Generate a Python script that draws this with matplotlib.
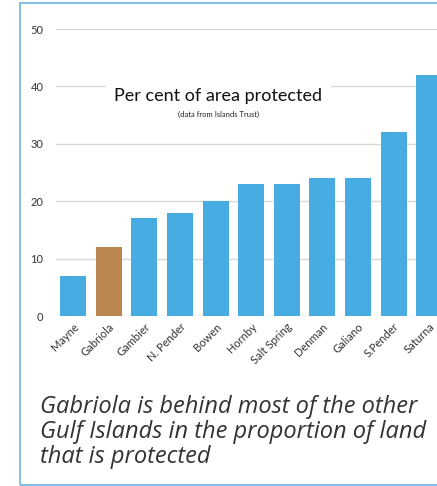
import matplotlib.pyplot as plt
import matplotlib
from matplotlib.patches import Rectangle

matplotlib.rcParams.update({'font.family': 'Lato', 'font.size': 8})

islands = ['Mayne', 'Gabriola', 'Gambier', 'N. Pender', 'Bowen', 'Hornby',
           'Salt Spring', 'Denman', 'Galiano', 'S.Pender', 'Saturna']
protected = [7, 12, 17, 18, 20, 23, 23, 24, 24, 32, 42]
yticks = [0, 10, 20, 30, 40, 50]

blue = '#47ace1'
brown = '#b9864f'
colors = [brown if name == 'Gabriola' else blue for name in islands]

fig = plt.figure(figsize=(4.37, 4.86), dpi=100)
ax = fig.add_axes([56 / 437, 1 - 316 / 486, 1 - 56 / 437, (316 - 29) / 486])

x = range(len(islands))
ax.bar(x, protected, width=0.73, color=colors, zorder=2)
ax.set_xlim(-0.48, 10.22)
ax.set_ylim(0, 50)
ax.set_yticks(yticks)
ax.yaxis.grid(True, color='#d9d9d9', linewidth=1, zorder=0)
ax.set_axisbelow(True)
for s in ax.spines.values():
    s.set_visible(False)
ax.tick_params(length=0, colors='#333333', labelsize=8)
ax.tick_params(axis='y', pad=9)
ax.set_xticks(list(x))
ax.set_xticklabels(islands, rotation=45, ha='right', rotation_mode='anchor')

# title sits in a white box over the 40 gridline
fig.text(0.5, 1 - 96 / 486, 'Per cent of area protected', ha='center', va='center',
         fontsize=13, color='#111111',
         bbox=dict(facecolor='white', edgecolor='none', pad=6))
fig.text(0.5, 1 - 114 / 486, '(data from Islands Trust)', ha='center', va='center',
         fontsize=5.5, color='#222222')

fig.text(40 / 437, 1 - 432 / 486,
         'Gabriola is behind most of the other\nGulf Islands in the proportion of land\nthat is protected',
         family='Open Sans', style='italic', fontsize=17,
         color='#333333', ha='left', va='center', linespacing=1.08)

# light blue frame around the panel
fig.patches.append(Rectangle((19.5 / 437, 1.5 / 486), 1.2, 481 / 486,
                             transform=fig.transFigure, fill=False,
                             edgecolor='#6cb4e4', linewidth=1.2))

fig.savefig('out.png', dpi=100)
